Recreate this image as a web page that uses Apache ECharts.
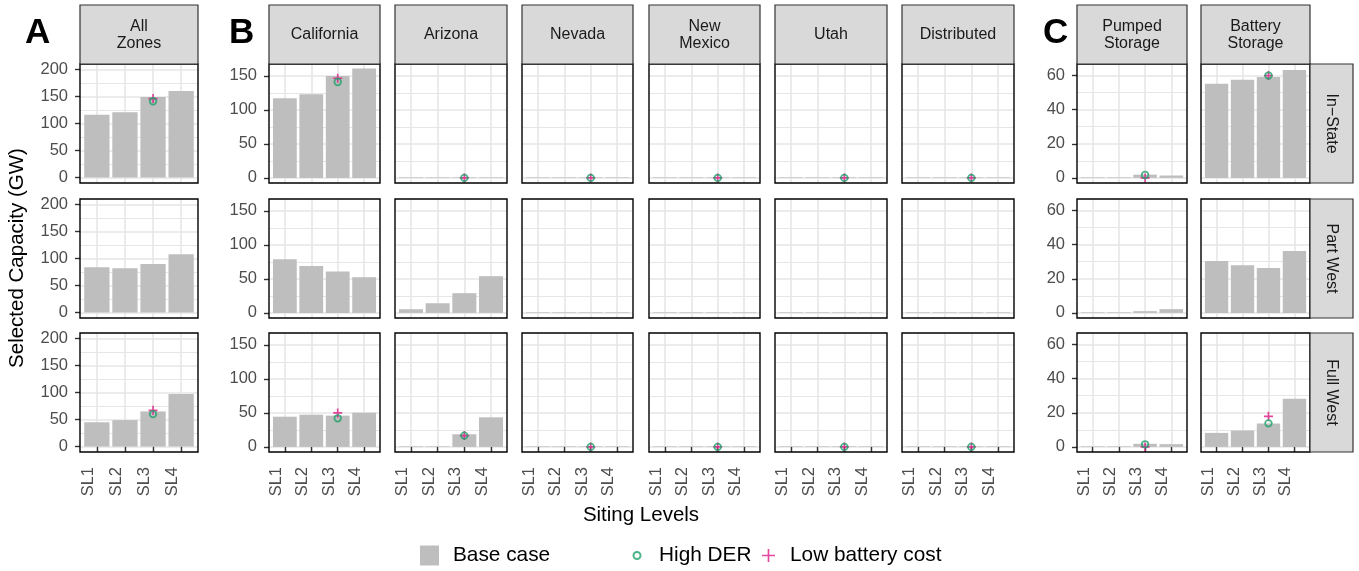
<!DOCTYPE html>
<html><head><meta charset="utf-8">
<script src="https://cdn.jsdelivr.net/npm/echarts@6/dist/echarts.min.js"></script>
<style>html,body{margin:0;padding:0;background:#fff}#c{width:1359px;height:571px}</style>
</head><body><div id="c"></div>
<script>
// ---------------- data ----------------
const categories = ['SL1', 'SL2', 'SL3', 'SL4'];
const panels = ['All\nZones', 'California', 'Arizona', 'Nevada', 'New\nMexico', 'Utah', 'Distributed', 'Pumped\nStorage', 'Battery\nStorage'];
const scopes = ['In\u2212State', 'Part West', 'Full West'];
const pointLevel = 'SL3';

const yTicksA = [0, 50, 100, 150, 200];
const yTicksB = [0, 50, 100, 150];
const yTicksC = [0, 20, 40, 60];
const yMinorA = [25, 75, 125, 175];
const yMinorB = [25, 75, 125];
const yMinorC = [10, 30, 50];

// Base case, one array per panel (SL1..SL4)
const baseInState = [
  [116, 121, 149, 160],
  [117, 123, 150, 161],
  [0.9, 0.9, 0.9, 0.9],
  [0.9, 0.9, 0.9, 0.9],
  [0.9, 0.9, 0.9, 0.9],
  [0.9, 0.9, 0.9, 0.9],
  [0.9, 0.9, 0.9, 0.9],
  [0.35, 0.35, 1.9, 1.4],
  [55.2, 57.5, 59.2, 63.3]
];
const basePartWest = [
  [84, 82, 90, 108],
  [79, 69, 61, 52.5],
  [5.4, 14.2, 29, 54],
  [0.9, 0.9, 0.9, 0.9],
  [0.9, 0.9, 0.9, 0.9],
  [0.9, 0.9, 0.9, 0.9],
  [0.9, 0.9, 0.9, 0.9],
  [0.35, 0.35, 1.0, 2.2],
  [30.4, 28, 26.3, 36.3]
];
const baseFullWest = [
  [45, 49, 65, 97],
  [44.4, 47.4, 46, 50.3],
  [0.9, 0.9, 18.6, 43.5],
  [0.9, 0.9, 0.9, 0.9],
  [0.9, 0.9, 0.9, 0.9],
  [0.9, 0.9, 0.9, 0.9],
  [0.9, 0.9, 0.9, 0.9],
  [0.35, 0.35, 1.8, 1.6],
  [8.2, 9.6, 13.7, 28.3]
];
// Scenario points at SL3 (null = no point)
const highDerInState = [141, 141, 0, 0, 0, 0, 0, 1.7, 60];
const highDerPartWest = [null, null, null, null, null, null, null, null, null];
const highDerFullWest = [60, 42, 16.6, 0, 0, 0, 0, 1.5, 13.8];
const lowBatInState = [146, 146.5, 0, 0, 0, 0, 0, 0, 60];
const lowBatPartWest = [null, null, null, null, null, null, null, null, null];
const lowBatFullWest = [67, 50, 16.6, 0, 0, 0, 0, 0, 17.9];

// ---------------- layout ----------------
const baseRows = [baseInState, basePartWest, baseFullWest];
const derRows = [highDerInState, highDerPartWest, highDerFullWest];
const batRows = [lowBatInState, lowBatPartWest, lowBatFullWest];

const colLefts = [80, 269, 395, 522, 649, 775, 902, 1077, 1201];
const colWidths = [118, 111, 112, 111, 111, 112, 112, 110, 109];
const rowTops = [64, 199, 333];
const rowH = 119;
const stripTop = 5, stripH = 59;
const rightStripX = 1310, rightStripW = 43;
const colGroup = [0, 1, 1, 1, 1, 1, 1, 2, 2];
const firstInGroup = [true, true, false, false, false, false, false, true, false];
const groupTicks = [yTicksA, yTicksB, yTicksC];
const groupMinor = [yMinorA, yMinorB, yMinorC];
const groupRange = [[-10, 210], [-7.5, 167.5], [-3, 66.8]];

const FONT = 'Liberation Sans, Arial, Helvetica, sans-serif';
const GRID_COL = '#E6E6E6';
const BAR_COL = '#BEBEBE';
const DER_COL = '#1FA06A';
const BAT_COL = '#DC1A86';
const plusPath = 'path://M5.7,0H8.3V5.7H14V8.3H8.3V14H5.7V8.3H0V5.7H5.7Z';
const plusPathLegend = 'path://M6.1,0H7.9V6.1H14V7.9H7.9V14H6.1V7.9H0V6.1H6.1Z';

const grids = [], xAxes = [], yAxes = [], series = [], graphics = [];
const ptX = categories.indexOf(pointLevel) + 1;

for (let r = 0; r < 3; r++) {
  for (let c = 0; c < 9; c++) {
    const idx = r * 9 + c;
    const g = colGroup[c];
    grids.push({
      left: colLefts[c], top: rowTops[r], width: colWidths[c], height: rowH,
      show: true, z: 5, backgroundColor: 'rgba(0,0,0,0)',
      borderColor: '#000', borderWidth: 1.4, containLabel: false, outerBoundsMode: 'none'
    });
    xAxes.push({
      gridIndex: idx, type: 'value', min: 0.4, max: 4.6,
      axisLine: { show: false },
      axisTick: { show: r === 2, customValues: [1, 2, 3, 4], length: 5, lineStyle: { color: '#333', width: 1.4 } },
      axisLabel: {
        show: r === 2, customValues: [1, 2, 3, 4], rotate: 90, margin: 15,
        verticalAlign: 'bottom', color: '#4D4D4D', fontSize: 16.5, fontFamily: FONT,
        formatter: v => categories[Math.round(v) - 1]
      },
      splitLine: { show: true, lineStyle: { color: GRID_COL, width: 1.6 } }
    });
    yAxes.push({
      gridIndex: idx, type: 'value', min: groupRange[g][0], max: groupRange[g][1], position: 'left',
      axisLine: { show: false },
      axisTick: { show: firstInGroup[c], customValues: groupTicks[g], length: 5, lineStyle: { color: '#333', width: 1.4 } },
      axisLabel: { show: firstInGroup[c], customValues: groupTicks[g], margin: 12, color: '#4D4D4D', fontSize: 16.5, fontFamily: FONT },
      splitLine: { show: true, lineStyle: { color: GRID_COL, width: 1.6 } }
    });
    yAxes.push({
      gridIndex: idx, type: 'value', min: groupRange[g][0], max: groupRange[g][1], position: 'right',
      axisLine: { show: false },
      axisTick: { show: false, customValues: groupMinor[g] },
      axisLabel: { show: false },
      splitLine: { show: true, lineStyle: { color: GRID_COL, width: 1.0 } }
    });
    series.push({
      type: 'bar', name: 'Base case', xAxisIndex: idx, yAxisIndex: 2 * idx,
      barWidth: 0.9 * colWidths[c] / 4.2, silent: true,
      itemStyle: { color: BAR_COL },
      data: categories.map((k, i) => [i + 1, baseRows[r][c][i]])
    });
    if (batRows[r][c] !== null) {
      series.push({
        type: 'scatter', name: 'Low battery cost', xAxisIndex: idx, yAxisIndex: 2 * idx,
        symbol: plusPath, symbolSize: 9, silent: true, z: 3,
        itemStyle: { color: BAT_COL },
        data: [[ptX, batRows[r][c]]]
      });
    }
    if (derRows[r][c] !== null) {
      series.push({
        type: 'scatter', name: 'High DER', xAxisIndex: idx, yAxisIndex: 2 * idx,
        symbol: 'circle', symbolSize: 6.6, silent: true, z: 4,
        itemStyle: { color: 'rgba(0,0,0,0)', borderColor: DER_COL, borderWidth: 1.8 },
        data: [[ptX, derRows[r][c]]]
      });
    }
  }
}

// strips on top
for (let c = 0; c < 9; c++) {
  graphics.push({
    type: 'rect', z: 10,
    shape: { x: colLefts[c], y: stripTop, width: colWidths[c], height: stripH },
    style: { fill: '#D9D9D9', stroke: '#333', lineWidth: 1.2 }
  });
  graphics.push({
    type: 'text', z: 11, x: colLefts[c] + colWidths[c] / 2, y: stripTop + stripH / 2 + 0.5,
    style: { text: panels[c], align: 'center', verticalAlign: 'middle', fill: '#1A1A1A', fontSize: 16, fontFamily: FONT, lineHeight: 17.5 }
  });
}
// strips on right
for (let r = 0; r < 3; r++) {
  graphics.push({
    type: 'rect', z: 10,
    shape: { x: rightStripX, y: rowTops[r], width: rightStripW, height: rowH },
    style: { fill: '#D9D9D9', stroke: '#333', lineWidth: 1.2 }
  });
  graphics.push({
    type: 'text', z: 11, x: rightStripX + rightStripW / 2, y: rowTops[r] + rowH / 2, rotation: -Math.PI / 2,
    style: { text: scopes[r], align: 'center', verticalAlign: 'middle', fill: '#1A1A1A', fontSize: 16, fontFamily: FONT }
  });
}
// panel letters
[['A', 25], ['B', 229], ['C', 1043]].forEach(([t, x]) => {
  graphics.push({
    type: 'text', z: 11, x: x, y: 33,
    style: { text: t, align: 'left', verticalAlign: 'middle', fill: '#000', fontSize: 35, fontWeight: 'bold', fontFamily: FONT }
  });
});
// axis titles
graphics.push({
  type: 'text', z: 11, x: 17, y: 258, rotation: Math.PI / 2,
  style: { text: 'Selected Capacity (GW)', align: 'center', verticalAlign: 'middle', fill: '#000', fontSize: 20.5, fontFamily: FONT }
});
graphics.push({
  type: 'text', z: 11, x: 641, y: 515,
  style: { text: 'Siting Levels', align: 'center', verticalAlign: 'middle', fill: '#000', fontSize: 20.5, fontFamily: FONT }
});

const legendText = (pad) => ({ fontSize: 20.8, color: '#000', fontFamily: FONT, lineHeight: 20, padding: [0, 0, 0, pad] });
const legends = [
  { data: [{ name: 'Base case', icon: 'rect' }], left: 420, top: 545, padding: 0, itemWidth: 19, itemHeight: 20, selectedMode: false, textStyle: legendText(9) },
  { data: [{ name: 'High DER', icon: 'circle', itemStyle: { color: 'rgba(0,0,0,0)', borderColor: DER_COL, borderWidth: 2 } }], left: 632.5, top: 545, padding: 0, itemWidth: 7, itemHeight: 20, selectedMode: false, textStyle: legendText(13.5) },
  { data: [{ name: 'Low battery cost', icon: plusPathLegend, itemStyle: { color: BAT_COL } }], left: 762, top: 545, padding: 0, itemWidth: 13, itemHeight: 20, selectedMode: false, textStyle: legendText(10) }
];

const chart = echarts.init(document.getElementById('c'), null, { renderer: 'canvas' });
chart.setOption({
  animation: false,
  backgroundColor: '#fff',
  textStyle: { fontFamily: FONT },
  grid: grids, xAxis: xAxes, yAxis: yAxes, series: series,
  legend: legends, graphic: graphics, tooltip: { show: false }
});
</script></body></html>
